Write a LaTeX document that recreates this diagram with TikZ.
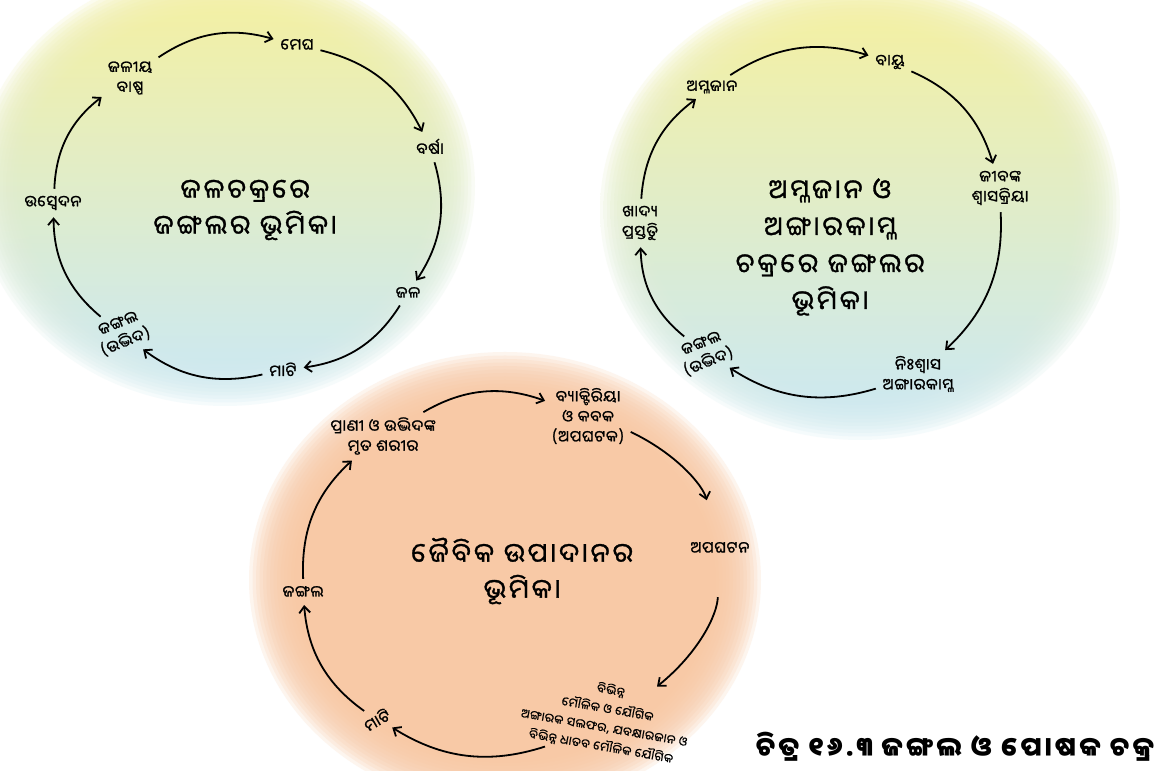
\documentclass[tikz,border=0pt]{standalone}
\usepackage{fontspec}
\newfontfamily\odt[Script=Oriya,LetterSpace=12,FakeBold=1.2]{Noto Sans Oriya UI}
\newfontfamily\odl[Script=Oriya,LetterSpace=5,FakeBold=1.3]{Noto Sans Oriya UI}
\newfontfamily\ods[Script=Oriya,LetterSpace=5,FakeBold=1]{Noto Sans Oriya UI}
\newfontfamily\odc[Script=Oriya,LetterSpace=12]{Noto Sans Oriya UI}
\usetikzlibrary{arrows.meta}
\definecolor{yel}{RGB}{244,240,160}
\definecolor{blu}{RGB}{204,233,241}
\definecolor{pch}{RGB}{248,200,163}
\tikzset{
 lbl/.style={font=\odl\fontsize{15.5}{20}\selectfont, align=center, inner sep=3pt},
 ttl/.style={font=\odt\fontsize{26.5}{36}\selectfont, align=center},
 sml/.style={font=\ods\fontsize{12}{19}\selectfont, align=center, inner sep=2pt},
 captxt/.style={font=\odc\bfseries\fontsize{26.5}{30}\selectfont},
 cyc/.style={-{Straight Barb[length=6.5pt,width=11pt]}, line width=1.8pt, bend left=25, shorten >=4pt, shorten <=4pt},
}
\begin{document}
\begin{tikzpicture}[x=1pt,y=1pt]
\useasboundingbox (0,0) rectangle (1171,771);
\clip (0,0) rectangle (1171,771);
\fill[white] (0,0) rectangle (1171,771);
% background blobs
\foreach \k in {0,...,13}{
  \fill[pch, fill opacity=0.18] (505,191) ellipse [x radius={256pt-3.5pt*\k}, y radius={228pt-3.5pt*\k}];
}
\foreach \k in {0,...,13}{
  \shade[top color=yel, bottom color=blu, fill opacity=0.18] (225,585) ellipse [x radius={250pt-3.5pt*\k}, y radius={220pt-3.5pt*\k}];
  \shade[top color=yel, bottom color=blu, fill opacity=0.18] (860,561) ellipse [x radius={260pt-3.5pt*\k}, y radius={230pt-3.5pt*\k}];
}
% top-left cycle
\node[ttl] (t1) at (245,561) {ଜଳଚକ୍ରରେ\\ଜଙ୍ଗଲର ଭୂମିକା};
\node[lbl] (mg) at (297,726) {ମେଘ};
\node[lbl] (jv) at (130,693) {ଜଳୀୟ\\ବାଷ୍ପ};
\node[lbl] (br) at (430,624) {ବର୍ଷା};
\node[lbl] (jl) at (408,478) {ଜଳ};
\node[lbl] (mt) at (283,401) {ମାଟି};
\node[lbl,rotate=22] (jg) at (122,438) {ଜଙ୍ଗଲ\\(ଉଦ୍ଭିଦ)};
\node[lbl] (us) at (53,568) {ଉସ୍ୱେଦନ};
\draw[cyc] (jv) to (mg);
\draw[cyc] (mg) to (br);
\draw[cyc] (br) to (jl);
\draw[cyc] (jl) to (mt);
\draw[cyc] (mt) to (jg);
\draw[cyc] (jg) to (us);
\draw[cyc] (us) to (jv);
% top-right cycle
\node[ttl,font=\odt\fontsize{26.5}{37}\selectfont] (t2) at (830,524) {ଅମ୍ଳଜାନ ଓ\\ଅଙ୍ଗାରକାମ୍ଳ\\ଚକ୍ରରେ ଜଙ୍ଗଲର\\ଭୂମିକା};
\node[lbl] (by) at (890,709) {ବାୟୁ};
\node[lbl] (am) at (712,684) {ଅମ୍ଳଜାନ};
\node[lbl] (jb) at (1000,583) {ଜୀବଙ୍କ\\ଶ୍ୱାସକ୍ରିୟା};
\node[lbl] (ns) at (918,397) {ନିଃଶ୍ୱାସ\\ଅଙ୍ଗାରକାମ୍ଳ};
\node[lbl,rotate=22] (jg2) at (705,418) {ଜଙ୍ଗଲ\\(ଉଦ୍ଭିଦ)};
\node[lbl] (kh) at (640,548) {ଖାଦ୍ୟ\\ପ୍ରସ୍ତୁତି};
\draw[cyc] (am) to (by);
\draw[cyc] (by) to (jb);
\draw[cyc] (jb) to (ns);
\draw[cyc] (ns) to (jg2);
\draw[cyc] (jg2) to (kh);
\draw[cyc] (kh) to (am);
% bottom cycle
\node[ttl] (t3) at (522,200) {ଜୈବିକ ଉପାଦାନର\\ଭୂମିକା};
\node[lbl] (pr) at (383,335) {ପ୍ରାଣୀ ଓ ଉଦ୍ଭିଦଙ୍କ\\ମୃତ ଶରୀର};
\node[lbl] (bk) at (588,355) {ବ୍ୟାକ୍ଟିରିୟା\\ଓ କବକ\\(ଅପଘଟକ)};
\node[lbl] (ap) at (720,223) {ଅପଘଟନ};
\node[sml,rotate=-10] (cp) at (606,53) {ବିଭିନ୍ନ\\ମୌଳିକ ଓ ଯୌଗିକ\\ଅଙ୍ଗାରକ ସଲଫର, ଯବକ୍ଷାରଜାନ ଓ\\ବିଭିନ୍ନ ଧାତବ ମୌଳିକ ଯୌଗିକ};
\node[lbl,rotate=30] (mt2) at (377,51) {ମାଟି};
\node[lbl] (jg3) at (303,179) {ଜଙ୍ଗଲ};
\draw[cyc] (pr) to (bk);
\draw[cyc, shorten >=40pt] (bk) to (ap);
\draw[cyc, shorten <=40pt] (ap) to (cp);
\draw[cyc] (cp) to (mt2);
\draw[cyc] (mt2) to (jg3);
\draw[cyc] (jg3) to (pr);
% caption
\node[captxt] (cap) at (955,24) {ଚିତ୍ର ୧୬.୩ ଜଙ୍ଗଲ ଓ ପୋଷକ ଚକ୍ର};
\end{tikzpicture}
\end{document}
